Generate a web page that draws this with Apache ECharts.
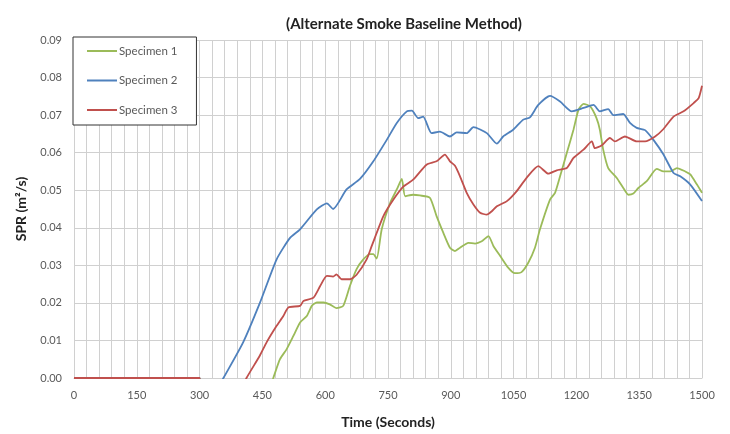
<!DOCTYPE html>
<html>
<head>
<meta charset="utf-8">
<script src="https://cdn.jsdelivr.net/npm/echarts@6/dist/echarts.min.js"></script>
<style>html,body{margin:0;padding:0;background:#fff;}#c{width:730px;height:434px;}</style>
</head>
<body>
<div id="c"></div>
<script>
var seriesNames = ['Specimen 1', 'Specimen 2', 'Specimen 3'];
var xTicks = [0, 150, 300, 450, 600, 750, 900, 1050, 1200, 1350, 1500];
var yTicks = [0, 0.01, 0.02, 0.03, 0.04, 0.05, 0.06, 0.07, 0.08, 0.09];

// Specimen 1 (green): time (s) and SPR (m²/s); negative values fall below the axis and are clipped
var s1Time = [0, 300, 305, 460, 476, 492, 508, 524, 540, 556, 568, 580, 596, 611, 627, 643, 659, 675, 691, 707, 715, 723, 735, 755, 771, 783, 791, 810, 826, 850, 866, 882, 898, 910, 922, 942, 958, 974, 990, 1002, 1018, 1037, 1053, 1069, 1085, 1101, 1113, 1137, 1149, 1161, 1177, 1193, 1205, 1217, 1233, 1248, 1256, 1264, 1276, 1296, 1312, 1324, 1336, 1348, 1368, 1392, 1408, 1424, 1440, 1460, 1472, 1488, 1500];
var s1Value = [0, 0, -0.01, -0.005, 0, 0.005, 0.0077, 0.0112, 0.0148, 0.0165, 0.0192, 0.0201, 0.0201, 0.0196, 0.0186, 0.0192, 0.0245, 0.029, 0.0316, 0.033, 0.033, 0.0318, 0.0396, 0.0466, 0.0502, 0.053, 0.0484, 0.0488, 0.0486, 0.048, 0.0431, 0.0387, 0.0347, 0.0338, 0.0347, 0.036, 0.0358, 0.0364, 0.0378, 0.0351, 0.0325, 0.0294, 0.0279, 0.0282, 0.0307, 0.0347, 0.0396, 0.0475, 0.0493, 0.0537, 0.0599, 0.0661, 0.0714, 0.073, 0.0723, 0.0692, 0.0661, 0.0608, 0.0559, 0.0533, 0.0506, 0.0488, 0.0491, 0.0506, 0.0524, 0.0557, 0.055, 0.055, 0.0559, 0.055, 0.0542, 0.0515, 0.0493];

// Specimen 2 (blue)
var s2Time = [0, 300, 305, 330, 357, 404, 444, 484, 516, 540, 580, 604, 619, 651, 683, 715, 747, 771, 795, 807, 822, 834, 854, 874, 898, 914, 938, 954, 986, 1010, 1025, 1049, 1073, 1089, 1109, 1137, 1161, 1189, 1217, 1241, 1256, 1276, 1288, 1312, 1328, 1344, 1364, 1384, 1408, 1432, 1448, 1472, 1500];
var s2Value = [0, 0, -0.01, -0.0055, 0, 0.0095, 0.020, 0.0316, 0.0373, 0.0396, 0.0449, 0.0465, 0.045, 0.0502, 0.053, 0.0577, 0.0634, 0.0679, 0.071, 0.0712, 0.0692, 0.0696, 0.0652, 0.0656, 0.0643, 0.0654, 0.0652, 0.0668, 0.0652, 0.0624, 0.0643, 0.0661, 0.0688, 0.0694, 0.0727, 0.0751, 0.0736, 0.071, 0.0719, 0.0727, 0.071, 0.0716, 0.070, 0.0703, 0.0679, 0.0666, 0.066, 0.0634, 0.0595, 0.0546, 0.0537, 0.0515, 0.0471];

// Specimen 3 (red)
var s3Time = [0, 300, 305, 390, 412, 444, 460, 484, 500, 512, 540, 548, 572, 588, 604, 619, 627, 639, 659, 675, 699, 711, 739, 763, 787, 810, 842, 866, 886, 898, 910, 922, 938, 954, 970, 986, 998, 1010, 1034, 1057, 1081, 1109, 1133, 1153, 1177, 1193, 1217, 1237, 1244, 1260, 1280, 1292, 1316, 1344, 1364, 1388, 1408, 1432, 1456, 1480, 1492, 1500];
var s3Value = [0, 0, -0.01, -0.005, 0, 0.006, 0.0095, 0.0139, 0.0165, 0.0188, 0.0192, 0.0205, 0.0214, 0.0245, 0.0272, 0.027, 0.0276, 0.0263, 0.0263, 0.0275, 0.0316, 0.0351, 0.0431, 0.0475, 0.051, 0.0528, 0.0568, 0.0577, 0.0595, 0.0577, 0.0565, 0.0537, 0.0493, 0.0462, 0.044, 0.0435, 0.0444, 0.0457, 0.0471, 0.0497, 0.0533, 0.0564, 0.0544, 0.0553, 0.0559, 0.0586, 0.0608, 0.063, 0.0612, 0.0619, 0.0639, 0.063, 0.0643, 0.063, 0.063, 0.0643, 0.0663, 0.0696, 0.071, 0.0732, 0.0745, 0.0778];

function zip(t, v) { return t.map(function (x, i) { return [x, v[i]]; }); }

var colors = ['#9bbb59', '#4f81bd', '#c0504d'];
var times = [s1Time, s2Time, s3Time];
var values = [s1Value, s2Value, s3Value];

var chart = echarts.init(document.getElementById('c'), null, { renderer: 'canvas' });
var font = 'Lato, "Open Sans", sans-serif';
chart.setOption({
  animation: false,
  backgroundColor: '#ffffff',
  title: {
    text: '(Alternate Smoke Baseline Method)',
    left: 399, top: 12, textAlign: 'center',
    textStyle: { fontFamily: font, fontSize: 15, fontWeight: 'bold', color: '#222' }
  },
  legend: {
    orient: 'vertical',
    left: 73, top: 37,
    data: seriesNames,
    icon: 'rect',
    itemWidth: 30, itemHeight: 2,
    itemGap: 17.5,
    padding: [8, 19, 9, 14],
    borderColor: '#333', borderWidth: 1,
    backgroundColor: '#fff',
    textStyle: { fontFamily: font, fontSize: 11.5, color: '#595959', padding: [0, 0, 0, -3] }
  },
  grid: { left: 74, right: 28, top: 40, bottom: 55 },
  xAxis: {
    type: 'value', min: xTicks[0], max: xTicks[xTicks.length - 1], interval: 150,
    name: 'Time (Seconds)', nameLocation: 'middle', nameGap: 37,
    nameTextStyle: { fontFamily: font, fontSize: 14, fontWeight: 'bold', color: '#222' },
    axisLine: { show: true, lineStyle: { color: '#d0d0d0' } },
    axisTick: { show: false },
    axisLabel: { fontFamily: font, fontSize: 11, color: '#595959', margin: 12,
      formatter: function (v) { return String(v); } },
    splitLine: { show: true, lineStyle: { color: '#d0d0d0', width: 1 } },
    minorTick: { show: false, splitNumber: 5 },
    minorSplitLine: { show: true, lineStyle: { color: '#d0d0d0', width: 1 } }
  },
  yAxis: {
    type: 'value', min: yTicks[0], max: yTicks[yTicks.length - 1], interval: 0.01,
    name: 'SPR (m²/s)', nameLocation: 'middle', nameGap: 46,
    nameTextStyle: { fontFamily: font, fontSize: 14, fontWeight: 'bold', color: '#222' },
    axisLine: { show: false },
    axisTick: { show: false },
    axisLabel: { fontFamily: font, fontSize: 11, color: '#595959', margin: 12,
      formatter: function (v) { return v.toFixed(2); } },
    splitLine: { show: true, lineStyle: { color: '#d0d0d0', width: 1 } }
  },
  series: seriesNames.map(function (n, i) {
    return {
      name: n, type: 'line', data: zip(times[i], values[i]),
      showSymbol: false, symbol: 'none', clip: true,
      smooth: 0.2,
      lineStyle: { color: colors[i], width: 1.8 },
      itemStyle: { color: colors[i] }
    };
  })
});
</script>
</body>
</html>
